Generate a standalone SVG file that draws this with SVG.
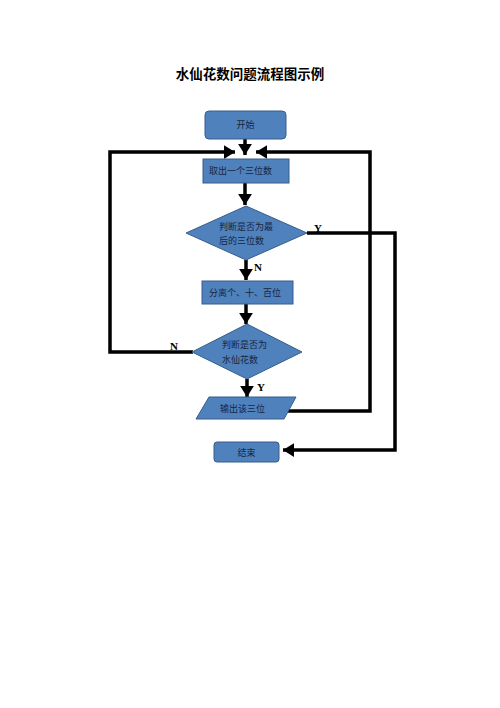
<svg xmlns="http://www.w3.org/2000/svg" width="500" height="708" viewBox="0 0 500 708">
<defs>
<style>
.node{fill:#4F81BD;stroke:#385D8A;stroke-width:1}
.t{font-family:"Noto Sans CJK SC",sans-serif;font-size:9px;fill:#1a2540}
.lbl{font-family:"Liberation Serif",serif;font-size:11px;font-weight:bold;fill:#000}
.c{fill:none;stroke:#000;stroke-width:3.5}
</style>
<marker id="ah" markerWidth="4" markerHeight="4" refX="3.2" refY="2" orient="auto" markerUnits="strokeWidth">
<path d="M0,0 L3.2,2 L0,4 z" fill="#000"/>
</marker>
</defs>
<rect width="500" height="708" fill="#fff"/>
<text x="250" y="79" text-anchor="middle" font-family="'Noto Sans CJK SC',sans-serif" font-size="13.5" font-weight="bold" fill="#000">水仙花数问题流程图示例</text>

<g id="connectors">
<line class="c" x1="245" y1="139" x2="245" y2="155" marker-end="url(#ah)"/>
<polyline class="c" points="193,352 110,352 110,152 235,152" marker-end="url(#ah)"/>
<polyline class="c" points="288,411 370,411 370,152 256,152" marker-end="url(#ah)"/>
<line class="c" x1="245" y1="183" x2="245" y2="205" marker-end="url(#ah)"/>
<polyline class="c" points="307,233 395,233 395,450 283,450" marker-end="url(#ah)"/>
<line class="c" x1="246" y1="260" x2="246" y2="280" marker-end="url(#ah)"/>
<line class="c" x1="246" y1="304" x2="246" y2="324" marker-end="url(#ah)"/>
<line class="c" x1="247" y1="379" x2="247" y2="397" marker-end="url(#ah)"/>
<text class="lbl" x="314" y="232">Y</text>
<text class="lbl" x="254" y="271">N</text>
<text class="lbl" x="170" y="350">N</text>
<text class="lbl" x="257" y="391">Y</text>
</g>

<g id="start">
<rect class="node" x="205" y="111" width="81" height="28" rx="4"/>
<text class="t" x="245.5" y="128" text-anchor="middle">开始</text>
</g>
<g id="take">
<rect class="node" x="203" y="159" width="86" height="24"/>
<text class="t" x="209" y="174">取出一个三位数</text>
</g>
<g id="isLast">
<polygon class="node" points="246,206 307,233 246,260 186,233"/>
<text class="t" x="219" y="230">判断是否为最</text>
<text class="t" x="219" y="244">后的三位数</text>
</g>
<g id="split">
<rect class="node" x="202" y="281" width="91" height="23"/>
<text class="t" x="209" y="296">分离个、十、百位</text>
</g>
<g id="isNarc">
<polygon class="node" points="247,324 302,352 247,379 192,352"/>
<text class="t" x="222" y="348">判断是否为</text>
<text class="t" x="222" y="363">水仙花数</text>
</g>
<g id="output">
<polygon class="node" points="209,397 296,397 284,419 196,419"/>
<text class="t" x="220" y="412">输出该三位</text>
</g>
<g id="end">
<rect class="node" x="214" y="442" width="65" height="20" rx="3"/>
<text class="t" x="246.5" y="455.5" text-anchor="middle">结束</text>
</g>
</svg>
